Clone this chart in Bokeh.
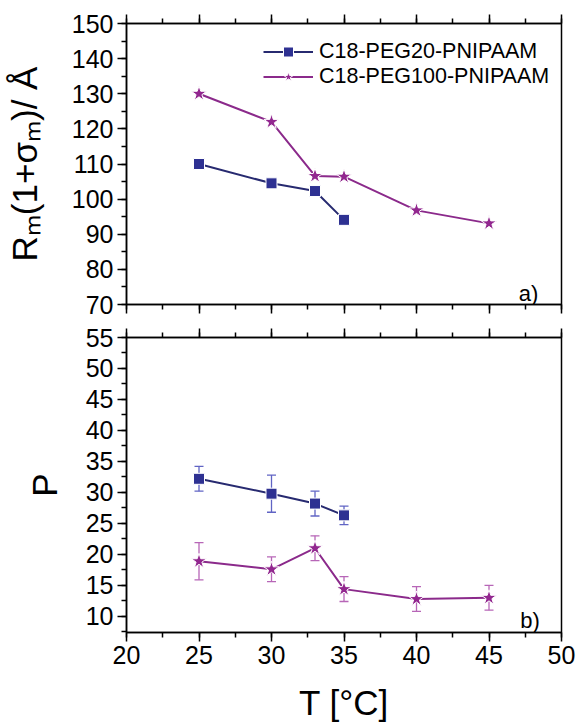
from bokeh.plotting import figure
from bokeh.layouts import column
from bokeh.models import (ColumnDataSource, SingleIntervalTicker, LinearAxis, Whisker,
                          TeeHead, Label, Legend, CustomJSTickFormatter)
from bokeh.embed import file_html
from bokeh.resources import INLINE

# ---------------- data ----------------
T20 = [25, 30, 33, 35]
R20 = [110.0, 104.5, 102.3, 94.1]
P20 = [32.2, 29.8, 28.2, 26.3]
P20_err = [2.0, 3.0, 2.0, 1.5]

T100 = [25, 30, 33, 35, 40, 45]
R100 = [130.0, 122.0, 106.6, 106.4, 96.8, 93.1]
P100 = [18.9, 17.6, 21.0, 14.4, 12.8, 13.0]
P100_err = [3.0, 2.0, 2.0, 2.0, 2.0, 2.0]

name20 = "C18-PEG20-PNIPAAM"
name100 = "C18-PEG100-PNIPAAM"
ylabel_top = "R\u2098(1+\u03c3\u2098)/ \u00c5"
ylabel_bot = "P"
xlabel = "T [\u00b0C]"

# ---------------- styles ----------------
FONT = "Liberation Sans"
BLUE_LINE = "#272a70"
BLUE = "#2e3192"
BLUE_ERR = "#6064c4"
PURP_LINE = "#8b2a8b"
PURP = "#92278f"
PURP_ERR = "#b766b7"

W = 579


def style_axis(ax, interval, minor, labels=True):
    ax.ticker = SingleIntervalTicker(interval=interval, num_minor_ticks=minor)
    ax.axis_line_color = "black"
    ax.axis_line_width = 1.5
    ax.major_tick_line_color = "black"
    ax.major_tick_line_width = 1.5
    ax.minor_tick_line_color = "black"
    ax.minor_tick_line_width = 1.5
    ax.major_tick_in = 0
    ax.major_tick_out = 9
    ax.minor_tick_in = 0
    ax.minor_tick_out = 5
    ax.major_label_text_font = FONT
    ax.major_label_text_color = "black"
    ax.axis_label_text_font = FONT
    ax.axis_label_text_font_style = "normal"
    ax.axis_label_text_color = "black"
    ax.axis_label_text_font_size = "35px"
    if labels:
        ax.major_label_text_font_size = "25px"
        ax.major_label_standoff = 4
    else:
        ax.major_label_text_font_size = "0px"
        ax.major_label_standoff = 0
        ax.formatter = CustomJSTickFormatter(code="return ''")


def base_fig(height, yr, left, right, top, bottom):
    p = figure(width=W, height=height, x_range=(20, 50), y_range=yr,
               output_backend="svg", toolbar_location=None,
               min_border_left=left, min_border_right=right,
               min_border_top=top, min_border_bottom=bottom)
    p.grid.visible = False
    p.outline_line_color = "black"
    p.outline_line_width = 1.5
    p.outline_line_alpha = 1.0
    p.background_fill_color = "white"
    p.border_fill_color = "white"
    return p


# ---------------- top panel ----------------
p1 = base_fig(320, (70, 150), 122, 18, 23, 16)
style_axis(p1.xaxis[0], 5, 2, labels=False)
style_axis(p1.yaxis[0], 10, 2)
p1.yaxis[0].axis_label = ylabel_top
p1.yaxis[0].axis_label_standoff = 25
top_ax1 = LinearAxis()
style_axis(top_ax1, 5, 2, labels=False)
p1.add_layout(top_ax1, "above")

l20 = p1.line(T20, R20, line_color=BLUE_LINE, line_width=2)
m20 = p1.scatter(T20, R20, marker="square", size=11, fill_color=BLUE,
                 line_color="white", line_width=1)
l100 = p1.line(T100, R100, line_color=PURP_LINE, line_width=2)
m100 = p1.scatter(T100, R100, marker="star", size=16, fill_color=PURP,
                  line_color="white", line_width=1)

leg = Legend(items=[(name20, [l20, m20]), (name100, [l100, m100])],
             location=(137, 215), border_line_color=None,
             background_fill_alpha=0, padding=0, margin=0, spacing=0,
             glyph_width=50, glyph_height=25, label_standoff=6,
             label_text_font=FONT, label_text_font_size="21.5px",
             label_text_color="black")
p1.add_layout(leg)

p1.add_layout(Label(x=48.4, y=73.2, text="a)", text_align="right",
                    text_baseline="alphabetic", text_font=FONT,
                    text_font_size="22px", text_color="black"))

# ---------------- bottom panel ----------------
p2 = base_fig(404, (7.4, 55), 126, 16, 17, 92)
style_axis(p2.xaxis[0], 5, 2)
p2.xaxis[0].axis_label = xlabel
p2.xaxis[0].axis_label_standoff = 16
style_axis(p2.yaxis[0], 5, 2)
p2.yaxis[0].axis_label = ylabel_bot
p2.yaxis[0].axis_label_standoff = 19
top_ax2 = LinearAxis()
style_axis(top_ax2, 5, 2, labels=False)
p2.add_layout(top_ax2, "above")

s20 = ColumnDataSource(dict(x=T20, y=P20,
                            lo=[v - e for v, e in zip(P20, P20_err)],
                            hi=[v + e for v, e in zip(P20, P20_err)]))
s100 = ColumnDataSource(dict(x=T100, y=P100,
                             lo=[v - e for v, e in zip(P100, P100_err)],
                             hi=[v + e for v, e in zip(P100, P100_err)]))

for src, col in ((s20, BLUE_ERR), (s100, PURP_ERR)):
    p2.add_layout(Whisker(source=src, base="x", upper="hi", lower="lo",
                          line_color=col, line_width=1.3,
                          upper_head=TeeHead(size=9, line_color=col, line_width=1.3),
                          lower_head=TeeHead(size=9, line_color=col, line_width=1.3)))

p2.line("x", "y", source=s20, line_color=BLUE_LINE, line_width=2)
p2.scatter("x", "y", source=s20, marker="square", size=11, fill_color=BLUE,
           line_color="white", line_width=1)
p2.line("x", "y", source=s100, line_color=PURP_LINE, line_width=2)
p2.scatter("x", "y", source=s100, marker="star", size=16, fill_color=PURP,
           line_color="white", line_width=1)

p2.add_layout(Label(x=48.5, y=9.3, text="b)", text_align="right",
                    text_baseline="alphabetic", text_font=FONT,
                    text_font_size="22px", text_color="black"))

layout = column(p1, p2, spacing=0)
open("out.html", "w").write(file_html(layout, INLINE))
